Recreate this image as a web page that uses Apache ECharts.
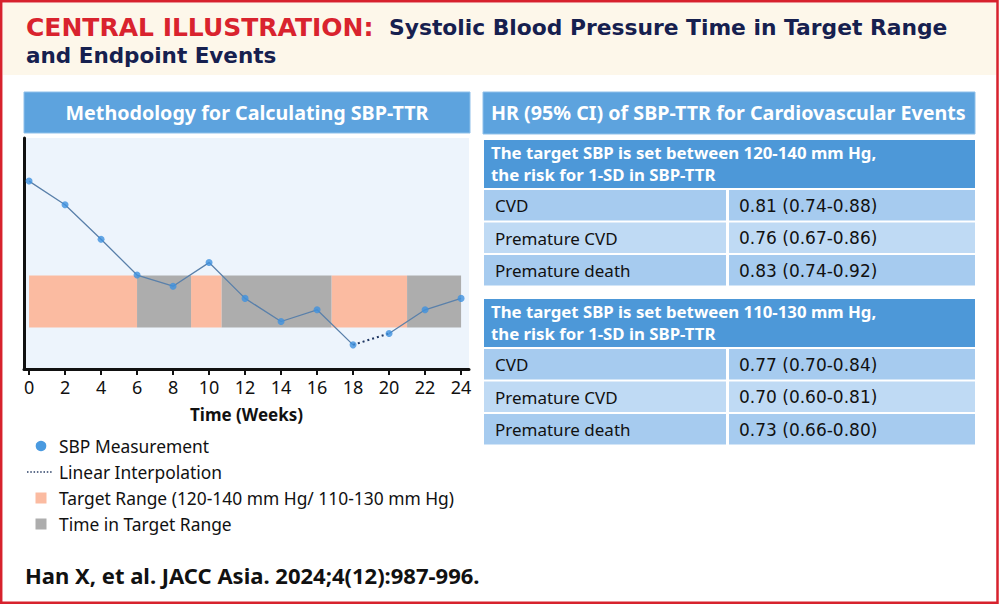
<!DOCTYPE html>
<html>
<head>
<meta charset="utf-8">
<script src="https://cdn.jsdelivr.net/npm/echarts@6/dist/echarts.min.js"></script>
<style>
html,body{margin:0;padding:0;background:#fff;}
#main{width:1000px;height:606px;}
</style>
</head>
<body>
<div id="main"></div>
<script>
// ---------- data ----------
const weeks = [0, 2, 4, 6, 8, 10, 12, 14, 16, 18, 20, 22, 24];
const sbp = [176.4, 167.3, 154.0, 140.2, 135.9, 145.0, 131.2, 122.3, 126.8, 113.3, 117.7, 126.8, 131.2];
const tickValues = [0, 2, 4, 6, 8, 10, 12, 14, 16, 18, 20, 22, 24];
const targetRange = [120, 140];
const outOfRangeSpans = [[0, 6], [9, 10.7], [16.8, 21]];
const inRangeSpans = [[6, 9], [10.7, 16.8], [21, 24]];
const interpolatedWeeks = [18, 20];
const legendLabels = ['SBP Measurement', 'Linear Interpolation', 'Target Range (120-140 mm Hg/ 110-130 mm Hg)', 'Time in Target Range'];
const titleRed = 'CENTRAL ILLUSTRATION:';
const titleLine1 = 'Systolic Blood Pressure Time in Target Range';
const titleLine2 = 'and Endpoint Events';
const leftHeader = 'Methodology for Calculating SBP-TTR';
const rightHeader = 'HR (95% CI) of SBP-TTR for Cardiovascular Events';
const groupTitles = [
  ['The target SBP is set between 120-140 mm Hg,', 'the risk for 1-SD in SBP-TTR'],
  ['The target SBP is set between 110-130 mm Hg,', 'the risk for 1-SD in SBP-TTR']
];
const outcomes = ['CVD', 'Premature CVD', 'Premature death'];
const hr120to140 = ['0.81 (0.74-0.88)', '0.76 (0.67-0.86)', '0.83 (0.74-0.92)'];
const hr110to130 = ['0.77 (0.70-0.84)', '0.70 (0.60-0.81)', '0.73 (0.66-0.80)'];
const xAxisName = 'Time (Weeks)';
const citation = 'Han X, et al. JACC Asia. 2024;4(12):987-996.';

// ---------- styles ----------
const FONT = "'Noto Sans', 'Open Sans', sans-serif";
const WIDE_FONT = "'DejaVu Sans', 'Noto Sans', sans-serif";
const ORANGE = '#fbbba1';
const GRAY = '#adadad';
const HEADER_BLUE = '#5da3de';
const SUB_BLUE = '#4d98d8';
const CELL_A = '#a6cbef';
const CELL_B = '#bfdaf4';

const measured = weeks.map((w, i) => [w, sbp[i]]);
const i0 = weeks.indexOf(interpolatedWeeks[0]);
const i1 = weeks.indexOf(interpolatedWeeks[1]);
const solidA = measured.slice(0, i0 + 1);
const solidB = measured.slice(i1);
const dotted = measured.slice(i0, i1 + 1);

function spanAreas(spans, color) {
  return spans.map(s => [
    { xAxis: s[0], yAxis: targetRange[0], itemStyle: { color: color } },
    { xAxis: s[1], yAxis: targetRange[1] }
  ]);
}

// ---------- graphics (frame, title, headers, legend, table) ----------
const graphics = [];
graphics.push({ type: 'rect', z: 0, shape: { x: 3, y: 3, width: 993, height: 72 }, style: { fill: '#fdf7ea' } });
graphics.push({ type: 'rect', z: 100, shape: { x: 1.2, y: 1.2, width: 996.3, height: 601.6 }, style: { fill: 'none', stroke: '#d7222d', lineWidth: 2.5 } });
graphics.push({ type: 'text', z: 10, x: 26, y: 27, style: { text: titleRed, fill: '#d9232e', fontFamily: WIDE_FONT, fontWeight: 'bold', fontSize: 25, verticalAlign: 'middle' } });
graphics.push({ type: 'text', z: 10, x: 389, y: 27, style: { text: titleLine1, fill: '#16204f', fontFamily: WIDE_FONT, fontWeight: 'bold', fontSize: 21.8, verticalAlign: 'middle' } });
graphics.push({ type: 'text', z: 10, x: 26, y: 55, style: { text: titleLine2, fill: '#16204f', fontFamily: WIDE_FONT, fontWeight: 'bold', fontSize: 21.5, verticalAlign: 'middle' } });
// left header
graphics.push({ type: 'rect', z: 10, shape: { x: 24, y: 92, width: 446, height: 41 }, style: { fill: HEADER_BLUE, stroke: '#8fc0ea', lineWidth: 1 } });
graphics.push({ type: 'text', z: 11, x: 247, y: 112.5, style: { text: leftHeader, fill: '#fff', fontFamily: FONT, fontWeight: 'bold', fontSize: 19.7, align: 'center', verticalAlign: 'middle' } });
// right header
graphics.push({ type: 'rect', z: 10, shape: { x: 483, y: 92, width: 492, height: 42 }, style: { fill: HEADER_BLUE, stroke: '#8fc0ea', lineWidth: 1 } });
graphics.push({ type: 'text', z: 11, x: 491, y: 112.5, style: { text: rightHeader, fill: '#fff', fontFamily: FONT, fontWeight: 'bold', fontSize: 19.7, verticalAlign: 'middle' } });

// tables
const groups = [hr120to140, hr110to130];
const groupTops = [140, 299];
groups.forEach((vals, g) => {
  const top = groupTops[g];
  graphics.push({ type: 'rect', z: 10, shape: { x: 484, y: top, width: 491, height: 48 }, style: { fill: SUB_BLUE } });
  graphics.push({ type: 'text', z: 11, x: 491, y: top + 23.5, style: { text: groupTitles[g].join('\n'), fill: '#fff', fontFamily: FONT, fontWeight: 'bold', fontSize: 16.8, lineHeight: 21.5, verticalAlign: 'middle' } });
  outcomes.forEach((name, r) => {
    const y = top + 50 + r * 32.5;
    const fill = r === 1 ? CELL_B : CELL_A;
    graphics.push({ type: 'rect', z: 10, shape: { x: 484, y: y, width: 242, height: 30.5 }, style: { fill: fill } });
    graphics.push({ type: 'rect', z: 10, shape: { x: 729, y: y, width: 246, height: 30.5 }, style: { fill: fill } });
    graphics.push({ type: 'text', z: 11, x: 495, y: y + 15.5, style: { text: name, fill: '#111', fontFamily: FONT, fontSize: 17, verticalAlign: 'middle' } });
    graphics.push({ type: 'text', z: 11, x: 739, y: y + 15.5, style: { text: vals[r], fill: '#111', fontFamily: WIDE_FONT, fontSize: 17, verticalAlign: 'middle' } });
  });
});

// legend
const legendY = [446, 472, 498, 524];
graphics.push({ type: 'circle', z: 10, shape: { cx: 41, cy: legendY[0], r: 5.3 }, style: { fill: '#4a9ae0' } });
graphics.push({ type: 'line', z: 10, shape: { x1: 27, y1: legendY[1], x2: 53, y2: legendY[1] }, style: { stroke: '#2a3f66', lineWidth: 1.3, lineDash: [1.5, 1.8] } });
graphics.push({ type: 'rect', z: 10, shape: { x: 35.5, y: legendY[2] - 5.5, width: 11, height: 11 }, style: { fill: ORANGE } });
graphics.push({ type: 'rect', z: 10, shape: { x: 35.5, y: legendY[3] - 5.5, width: 11, height: 11 }, style: { fill: GRAY } });
legendLabels.forEach((t, i) => {
  graphics.push({ type: 'text', z: 11, x: 59, y: legendY[i], style: { text: t, fill: '#111', fontFamily: FONT, fontSize: 17.4, verticalAlign: 'middle' } });
});
graphics.push({ type: 'text', z: 11, x: 25, y: 575, style: { text: citation, fill: '#111', fontFamily: FONT, fontWeight: 'bold', fontSize: 22, verticalAlign: 'middle' } });

// ---------- chart ----------
const chart = echarts.init(document.getElementById('main'), null, { renderer: 'svg' });
const option = {
  backgroundColor: '#ffffff',
  animation: false,
  grid: { left: 24, top: 138, width: 445, height: 231, show: true, backgroundColor: '#edf4fc', borderWidth: 0, containLabel: false },
  xAxis: {
    type: 'value', min: -0.28, max: 24.44,
    name: xAxisName, nameLocation: 'middle', nameGap: 37,
    nameTextStyle: { fontFamily: FONT, fontWeight: 'bold', fontSize: 17, color: '#111' },
    axisLine: { show: true, onZero: false, lineStyle: { color: '#111', width: 3 } },
    axisTick: { show: true, customValues: tickValues, length: 6, lineStyle: { color: '#111', width: 2 } },
    axisLabel: { customValues: tickValues, fontFamily: FONT, fontSize: 18, color: '#111', margin: 9 },
    splitLine: { show: false }
  },
  yAxis: {
    type: 'value', min: 104, max: 193,
    axisLine: { show: true, onZero: false, lineStyle: { color: '#111', width: 3 } },
    axisTick: { show: false }, axisLabel: { show: false }, splitLine: { show: false }
  },
  graphic: graphics,
  series: [
    {
      name: 'bands', type: 'line', data: [], z: 1, silent: true,
      markArea: { silent: true, data: spanAreas(outOfRangeSpans, ORANGE).concat(spanAreas(inRangeSpans, GRAY)) }
    },
    { name: 'SBP A', type: 'line', data: solidA, symbol: 'none', z: 3, lineStyle: { color: '#5a80aa', width: 1.3 } },
    { name: 'SBP B', type: 'line', data: solidB, symbol: 'none', z: 3, lineStyle: { color: '#5a80aa', width: 1.3 } },
    { name: legendLabels[1], type: 'line', data: dotted, symbol: 'none', z: 3, lineStyle: { color: '#1f3763', width: 2, type: [2, 3] } },
    { name: legendLabels[0], type: 'scatter', data: measured, symbol: 'circle', symbolSize: 7, z: 5, itemStyle: { color: '#3f91de' } }
  ]
};
chart.setOption(option);
</script>
</body>
</html>
